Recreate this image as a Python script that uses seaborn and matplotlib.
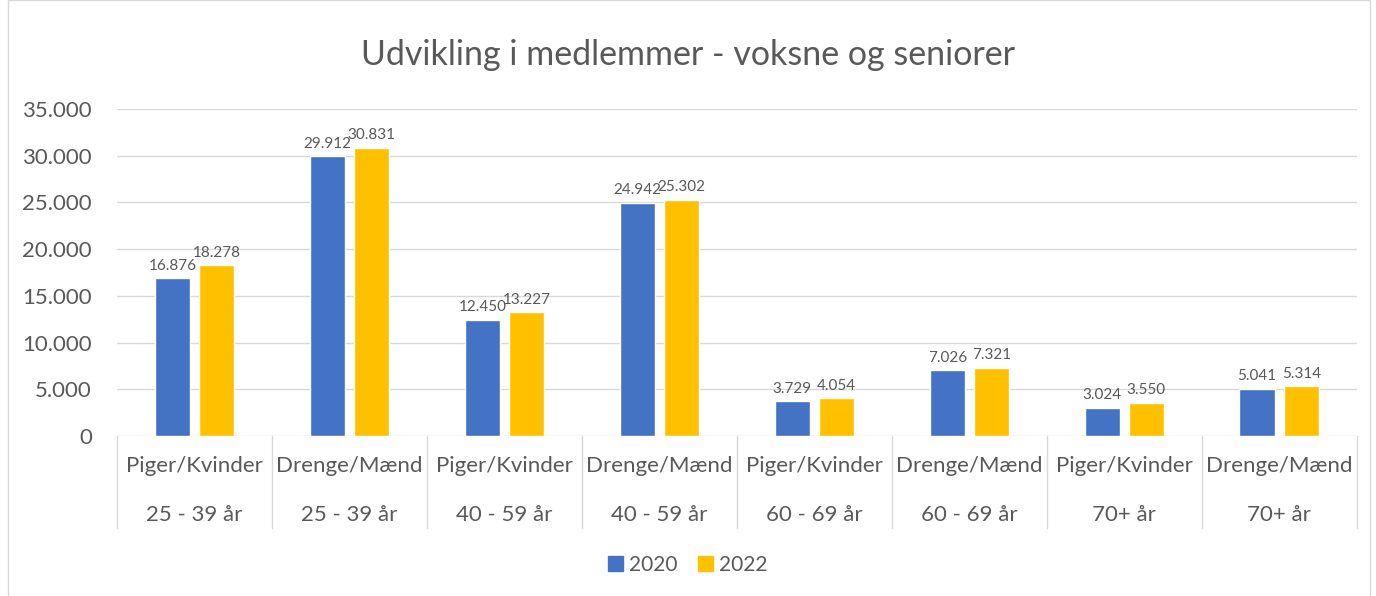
import matplotlib.pyplot as plt
import matplotlib.patches as mpatches
import matplotlib.ticker as mticker
import seaborn as sns
import pandas as pd

groups = ["Piger/Kvinder", "Drenge/Mænd", "Piger/Kvinder", "Drenge/Mænd",
          "Piger/Kvinder", "Drenge/Mænd", "Piger/Kvinder", "Drenge/Mænd"]
ages = ["25 - 39 år", "25 - 39 år", "40 - 59 år", "40 - 59 år",
        "60 - 69 år", "60 - 69 år", "70+ år", "70+ år"]
years = ["2020", "2022"]
values_2020 = [16876, 29912, 12450, 24942, 3729, 7026, 3024, 5041]
values_2022 = [18278, 30831, 13227, 25302, 4054, 7321, 3550, 5314]
yticks = [0, 5000, 10000, 15000, 20000, 25000, 30000, 35000]

COLORS = {"2020": "#4472C4", "2022": "#FFC000"}
TEXT = "#595959"
GRID = "#D9D9D9"


def dk(v):
    return f"{int(v):,}".replace(",", ".")


cats = [f"{g}\n{a}" for g, a in zip(groups, ages)]
df = pd.DataFrame({
    "cat": cats * 2,
    "year": [years[0]] * len(cats) + [years[1]] * len(cats),
    "value": values_2020 + values_2022,
})

sns.set_style("white")
plt.rcParams["font.family"] = ["Lato", "DejaVu Sans"]

fig = plt.figure(figsize=(13.76, 5.96), dpi=100)
ax = fig.add_axes([0.085, 0.2685, 0.901, 0.5487])

sns.barplot(data=df, x="cat", y="value", hue="year", hue_order=years,
            palette=COLORS, width=0.57, gap=0.2, dodge=True,
            saturation=1, errorbar=None, legend=False, ax=ax)

for cont in ax.containers:
    labels = [dk(b.get_height()) for b in cont]
    ax.bar_label(cont, labels=labels, padding=4, fontsize=11, color=TEXT)

ax.set_xlim(-0.5, len(cats) - 0.5)
ax.set_ylim(0, 35000)
ax.set_yticks(yticks)
ax.yaxis.set_major_formatter(mticker.FuncFormatter(lambda v, p: dk(v)))
ax.tick_params(axis="y", labelsize=16, colors=TEXT, length=0, pad=18)
ax.set_xticks([])
ax.set_xlabel("")
ax.set_ylabel("")
ax.grid(axis="y", color=GRID, linewidth=1)
ax.set_axisbelow(True)
for s in ax.spines.values():
    s.set_visible(False)

# category table below the axis
for i in range(len(cats) + 1):
    ax.plot([i - 0.5, i - 0.5], [0, -0.281], color=GRID, linewidth=1,
            transform=ax.get_xaxis_transform(), clip_on=False)
for i, (g, a) in enumerate(zip(groups, ages)):
    ax.text(i, -0.092, g, ha="center", va="center", fontsize=16, color=TEXT,
            transform=ax.get_xaxis_transform())
    ax.text(i, -0.242, a, ha="center", va="center", fontsize=16, color=TEXT,
            transform=ax.get_xaxis_transform())

fig.text(0.5, 0.908, "Udvikling i medlemmer - voksne og seniorer",
         ha="center", va="center", fontsize=24.5, color=TEXT)

handles = [mpatches.Patch(color=COLORS[y], label=y) for y in years]
fig.legend(handles=handles, loc="center", bbox_to_anchor=(0.5, 0.052), ncol=2,
           frameon=False, fontsize=15, labelcolor=TEXT, handlelength=0.7,
           handleheight=0.7, handletextpad=0.3, columnspacing=1.0)

fig.patches.append(mpatches.Rectangle((0.006, -0.01), 0.99, 1.01, transform=fig.transFigure,
                                      fill=False, edgecolor=GRID, linewidth=1))

fig.savefig("out.png", dpi=100)
